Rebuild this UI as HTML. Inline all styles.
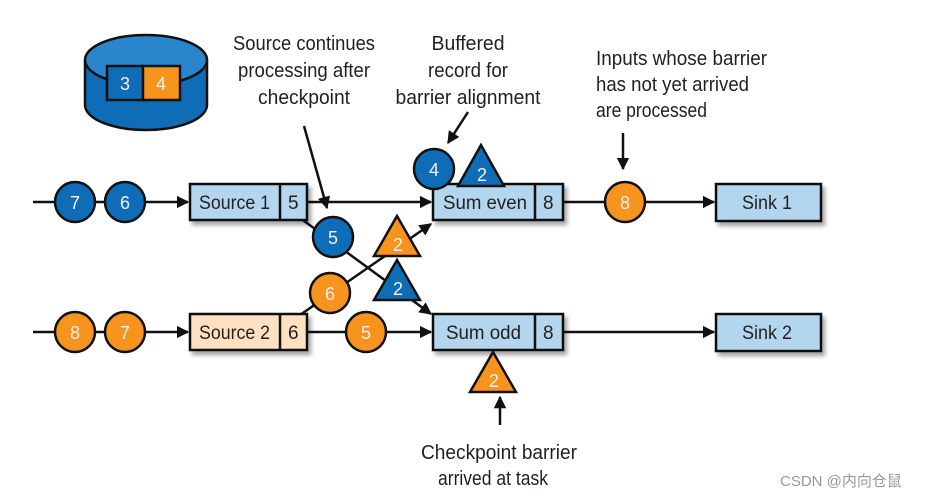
<!DOCTYPE html>
<html><head><meta charset="utf-8"><style>
html,body{margin:0;padding:0;background:#fff;}
svg{display:block;}
text{font-family:"Liberation Sans Narrow","Liberation Sans",sans-serif;}
.t{font-size:20px;fill:#231f20;text-anchor:middle;}
.tl{font-size:20px;fill:#231f20;}
.w{font-size:18px;fill:#f2f2f2;text-anchor:middle;}
.b{font-size:19px;fill:#231f20;}
</style></head><body>
<svg width="935" height="498" viewBox="0 0 935 498" xmlns="http://www.w3.org/2000/svg">
<defs>
<marker id="a" viewBox="0 0 10 10" refX="9" refY="5" markerWidth="5" markerHeight="5" orient="auto"><path d="M0,0 L10,5 L0,10 z" fill="#111"/></marker>
<filter id="sh" x="-10%" y="-10%" width="130%" height="150%"><feDropShadow dx="3" dy="4" stdDeviation="2" flood-color="#000" flood-opacity="0.35"/></filter>
</defs>

<!-- cylinder -->
<g stroke="#111" stroke-width="2.5">
<path d="M85,60 L85,105 A61,25 0 0 0 207,105 L207,60" fill="#0f6db7"/>
<ellipse cx="146" cy="60" rx="61" ry="25" fill="#2a86cc"/>
</g>
<rect x="107" y="66" width="36" height="34" fill="#0f6db7" stroke="#111" stroke-width="2.5"/>
<rect x="143" y="66" width="37" height="34" fill="#f7941d" stroke="#111" stroke-width="2.5"/>
<text class="w" x="125" y="90">3</text><text class="w" x="161" y="90">4</text>

<!-- lines -->
<g stroke="#111" stroke-width="2.5" fill="none">
<line x1="33" y1="202" x2="188" y2="202" marker-end="url(#a)"/>
<line x1="307" y1="202" x2="431" y2="202" marker-end="url(#a)"/>
<line x1="563" y1="202" x2="714" y2="202" marker-end="url(#a)"/>
<line x1="33" y1="332" x2="188" y2="332" marker-end="url(#a)"/>
<line x1="307" y1="332" x2="431" y2="332" marker-end="url(#a)"/>
<line x1="563" y1="332" x2="714" y2="332" marker-end="url(#a)"/>
<line x1="300" y1="218" x2="431" y2="314" marker-end="url(#a)"/>
<line x1="300" y1="315" x2="431" y2="224" marker-end="url(#a)"/>
<line x1="304" y1="126" x2="327" y2="208" marker-end="url(#a)"/>
<line x1="468" y1="112" x2="448" y2="143" marker-end="url(#a)"/>
<line x1="623" y1="133" x2="623" y2="169" marker-end="url(#a)"/>
<line x1="500" y1="425" x2="500" y2="397" marker-end="url(#a)"/>
</g>

<!-- boxes -->
<g stroke="#111" stroke-width="2.5" filter="url(#sh)">
<rect x="190" y="184" width="117" height="36" fill="#b3d5ee"/>
<rect x="433" y="184" width="130" height="36" fill="#b3d5ee"/>
<rect x="716" y="184" width="105" height="37" fill="#b3d5ee"/>
<rect x="190" y="314" width="117" height="36" fill="#fde0bf"/>
<rect x="433" y="314" width="130" height="36" fill="#b3d5ee"/>
<rect x="716" y="314" width="105" height="37" fill="#b3d5ee"/>
</g>
<g stroke="#111" stroke-width="2.5">
<line x1="280" y1="184" x2="280" y2="220"/><line x1="280" y1="314" x2="280" y2="350"/>
<line x1="535" y1="184" x2="535" y2="220"/><line x1="535" y1="314" x2="535" y2="350"/>
</g>
<text class="b" x="199" y="209" textLength="71" lengthAdjust="spacingAndGlyphs">Source 1</text>
<text class="b" x="288" y="209">5</text>
<text class="b" x="199" y="339" textLength="71" lengthAdjust="spacingAndGlyphs">Source 2</text>
<text class="b" x="288" y="339">6</text>
<text class="b" x="443" y="209" textLength="84" lengthAdjust="spacingAndGlyphs">Sum even</text>
<text class="b" x="543" y="209">8</text>
<text class="b" x="446" y="339" textLength="75" lengthAdjust="spacingAndGlyphs">Sum odd</text>
<text class="b" x="543" y="339">8</text>
<text class="b" x="742" y="209" textLength="50" lengthAdjust="spacingAndGlyphs">Sink 1</text>
<text class="b" x="742" y="339" textLength="50" lengthAdjust="spacingAndGlyphs">Sink 2</text>

<!-- circles -->
<g stroke="#111" stroke-width="2.5">
<circle cx="75" cy="202" r="20" fill="#0f6db7"/><circle cx="125" cy="202" r="20" fill="#0f6db7"/>
<circle cx="75" cy="332" r="20" fill="#f7941d"/><circle cx="125" cy="332" r="20" fill="#f7941d"/>
<circle cx="434" cy="169" r="20" fill="#0f6db7"/>
<circle cx="333" cy="237" r="20" fill="#0f6db7"/>
<circle cx="330" cy="293" r="20" fill="#f7941d"/>
<circle cx="366" cy="332" r="20" fill="#f7941d"/>
<circle cx="625" cy="202" r="20" fill="#f7941d"/>
<polygon points="481,145 458,186 504,186" fill="#0f6db7"/>
<polygon points="397,216 374,256 420,256" fill="#f7941d"/>
<polygon points="397,260 374,300 420,300" fill="#0f6db7"/>
<polygon points="493,352 470,392 516,392" fill="#f7941d"/>
</g>
<g class="w">
<text class="w" x="75" y="209">7</text><text class="w" x="125" y="209">6</text>
<text class="w" x="75" y="339">8</text><text class="w" x="125" y="339">7</text>
<text class="w" x="434" y="176">4</text><text class="w" x="333" y="244">5</text>
<text class="w" x="330" y="300">6</text><text class="w" x="366" y="339">5</text>
<text class="w" x="625" y="209">8</text>
<text class="w" x="482" y="181">2</text><text class="w" x="398" y="251">2</text>
<text class="w" x="398" y="295">2</text><text class="w" x="494" y="387">2</text>
</g>

<!-- labels -->
<text class="t" x="304" y="50" textLength="142" lengthAdjust="spacingAndGlyphs">Source continues</text>
<text class="t" x="304" y="77" textLength="132" lengthAdjust="spacingAndGlyphs">processing after</text>
<text class="t" x="304" y="104" textLength="92" lengthAdjust="spacingAndGlyphs">checkpoint</text>
<text class="t" x="468" y="50" textLength="73" lengthAdjust="spacingAndGlyphs">Buffered</text>
<text class="t" x="468" y="77" textLength="80" lengthAdjust="spacingAndGlyphs">record for</text>
<text class="t" x="468" y="104" textLength="145" lengthAdjust="spacingAndGlyphs">barrier alignment</text>
<text class="tl" x="596" y="65" textLength="171" lengthAdjust="spacingAndGlyphs">Inputs whose barrier</text>
<text class="tl" x="596" y="91" textLength="153" lengthAdjust="spacingAndGlyphs">has not yet arrived</text>
<text class="tl" x="596" y="117" textLength="111" lengthAdjust="spacingAndGlyphs">are processed</text>
<text class="t" x="499" y="459" textLength="156" lengthAdjust="spacingAndGlyphs">Checkpoint barrier</text>
<text class="t" x="493" y="485" textLength="110" lengthAdjust="spacingAndGlyphs">arrived at task</text>
<text x="780" y="486" style="font-family:'Liberation Sans','Noto Sans CJK SC',sans-serif;font-size:15px;fill:#999">CSDN @内向仓鼠</text>
</svg>
</body></html>
